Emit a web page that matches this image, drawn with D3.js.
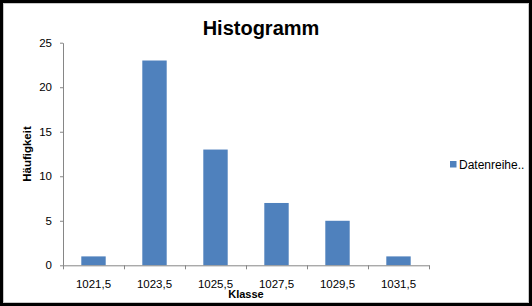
<!DOCTYPE html>
<html>
<head>
<meta charset="utf-8">
<script src="https://cdn.jsdelivr.net/npm/d3@7"></script>
<style>
	body { margin: 0; background: #000; }
	svg { display: block; }
	text { font-family: "Liberation Sans", Arial, sans-serif; }
</style>
</head>
<body>
<svg id="graphic" width="532" height="306"></svg>
<script>
var classes = ["1021,5", "1023,5", "1025,5", "1027,5", "1029,5", "1031,5"];
var counts = [1, 23, 13, 7, 5, 1];
var yTicks = [0, 5, 10, 15, 20, 25];
var seriesName = "Datenreihe..";

var AXIS_COLOR = "#868686";
var BAR_COLOR = "#4f81bd";

var svg = d3.select("#graphic");

// black frame, white chart area with light border
svg.append("rect")
	.attr("x", 0).attr("y", 0)
	.attr("width", 532).attr("height", 306)
	.attr("fill", "#000");

svg.append("rect")
	.attr("x", 3.5).attr("y", 3.5)
	.attr("width", 525).attr("height", 299)
	.attr("fill", "#fff")
	.attr("stroke", "#c8c8c8");

var plot = { left: 63, right: 429, top: 42.7, bottom: 265.3 };

var x = d3.scaleBand()
	.domain(classes)
	.range([plot.left, plot.right])
	.paddingInner(0.6)
	.paddingOuter(0.3);

// boundaries between classes, for the tick marks
var xb = d3.scaleLinear()
	.domain([0, classes.length])
	.range([plot.left, plot.right]);

var y = d3.scaleLinear()
	.domain([0, 25])
	.range([plot.bottom, plot.top]);

// bars
svg.append("g")
	.selectAll("rect")
	.data(counts)
	.enter().append("rect")
		.attr("x", function(d, i) { return x(classes[i]); })
		.attr("y", function(d) { return y(d); })
		.attr("width", x.bandwidth())
		.attr("height", function(d) { return y(0) - y(d); })
		.attr("fill", BAR_COLOR);

// y axis
var yg = svg.append("g")
	.attr("transform", "translate(" + plot.left + ",0)")
	.call(d3.axisLeft(y).tickValues(yTicks).tickSize(3).tickSizeOuter(0).tickPadding(8));

yg.selectAll("text")
	.attr("font-size", "11.5px")
	.attr("fill", "#000")
	.style("font-family", "'Liberation Sans', Arial, sans-serif");

// x axis: tick marks on the class boundaries
var xg = svg.append("g")
	.attr("transform", "translate(0," + plot.bottom + ")")
	.call(d3.axisBottom(xb).tickValues(d3.range(classes.length + 1)).tickFormat("").tickSize(4).tickSizeOuter(0));

// x axis labels at the class centres
var xl = svg.append("g")
	.attr("transform", "translate(0," + plot.bottom + ")")
	.call(d3.axisBottom(x).tickSize(0).tickPadding(15));

xl.select(".domain").remove();
xl.selectAll("text")
	.attr("font-size", "11.5px")
	.attr("fill", "#000")
	.style("font-family", "'Liberation Sans', Arial, sans-serif");

svg.selectAll(".domain, .tick line")
	.attr("stroke", AXIS_COLOR);

// titles
svg.append("text")
	.attr("x", 261)
	.attr("y", 35)
	.attr("text-anchor", "middle")
	.attr("font-size", "20px")
	.attr("font-weight", "bold")
	.text("Histogramm");

svg.append("text")
	.attr("x", (plot.left + plot.right) / 2)
	.attr("y", 298)
	.attr("text-anchor", "middle")
	.attr("font-size", "11px")
	.attr("font-weight", "bold")
	.text("Klasse");

svg.append("text")
	.attr("transform", "translate(30.5," + ((plot.top + plot.bottom) / 2) + ") rotate(-90)")
	.attr("text-anchor", "middle")
	.attr("font-size", "11.5px")
	.attr("font-weight", "bold")
	.text("Häufigkeit");

// legend
var leg = svg.append("g")
	.attr("transform", "translate(450,161)");

leg.append("rect")
	.attr("width", 6.5)
	.attr("height", 6.5)
	.attr("fill", BAR_COLOR);

leg.append("text")
	.attr("x", 9)
	.attr("y", 7.5)
	.attr("font-size", "12px")
	.text(seriesName);
</script>
</body>
</html>
